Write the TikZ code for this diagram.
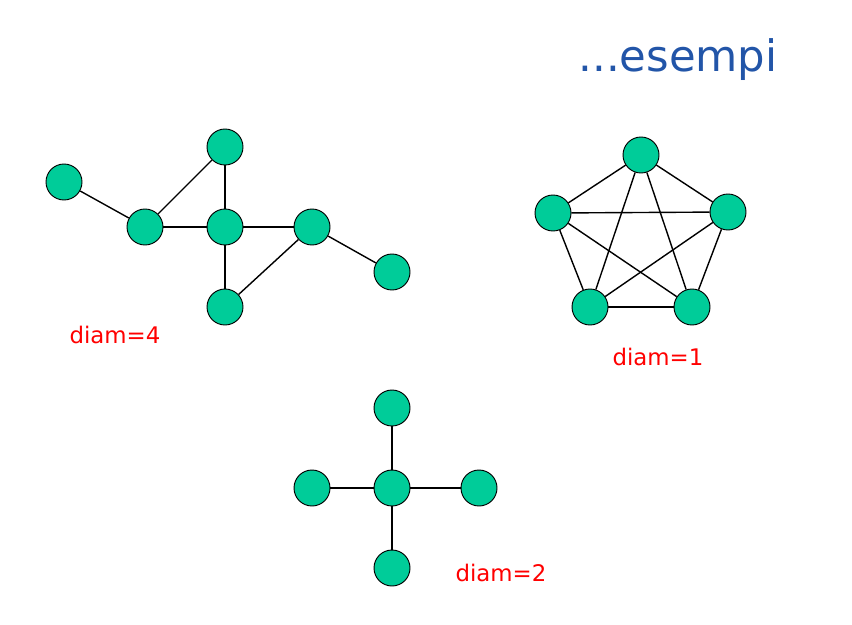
\documentclass[tikz,border=0pt]{standalone}
\usepackage{fontspec}
\setmainfont{DejaVu Sans}
\usepackage{tikz}
\usetikzlibrary{positioning}
\definecolor{nodegreen}{RGB}{0,204,153}
\definecolor{titleblue}{RGB}{34,85,168}

\begin{document}
\begin{tikzpicture}[x=0.03cm,y=-0.03cm,line width=1.2pt,
		vertex/.style={circle,draw=black,line width=0.8pt,fill=nodegreen,minimum size=36*0.03cm,inner sep=0pt},
		diamlabel/.style={text=red,font=\fontsize{19.5}{22}\selectfont}]
		\useasboundingbox (0,0) rectangle (852,625);
		
		\node at (678,60)[text=titleblue,font=\fontsize{37}{42}\selectfont] {...esempi};
		
		% primo grafo
		\node[vertex] (a1) at (64,182) {};
		\node[vertex] (a2) at (145,227) {};
		\node[vertex] (a3) at (225,227) {};
		\node[vertex] (a4) at (225,147) {};
		\node[vertex] (a5) at (312,227) {};
		\node[vertex] (a6) at (392,272) {};
		\node[vertex] (a7) at (225,307) {};
		\draw (a1) -- (a2);
		\draw (a2) -- (a4);
		\draw (a2) -- (a3);
		\draw (a3) -- (a4);
		\draw (a3) -- (a5);
		\draw (a3) -- (a7);
		\draw (a7) -- (a5);
		\draw (a5) -- (a6);
		\node[diamlabel] (d4) at (115,335) {diam=4};
		
		% grafo completo
		\node[vertex] (b1) at (641,155) {};
		\node[vertex] (b2) at (553,213) {};
		\node[vertex] (b3) at (728,212) {};
		\node[vertex] (b4) at (590,307) {};
		\node[vertex] (b5) at (692,307) {};
		\foreach \i/\j in {b1/b2,b1/b3,b1/b4,b1/b5,b2/b3,b2/b4,b2/b5,b3/b4,b3/b5,b4/b5}
			\draw (\i) -- (\j);
		\node[diamlabel] (d1) at (658,357) {diam=1};
		
		% stella
		\node[vertex] (c1) at (392,488) {};
		\node[vertex] (c2) at (392,408) {};
		\node[vertex] (c3) at (312,488) {};
		\node[vertex] (c4) at (479,488) {};
		\node[vertex] (c5) at (392,568) {};
		\foreach \j in {c2,c3,c4,c5}
			\draw (c1) -- (\j);
		\node[diamlabel] (d2) at (501,573) {diam=2};
	\end{tikzpicture}
\end{document}
